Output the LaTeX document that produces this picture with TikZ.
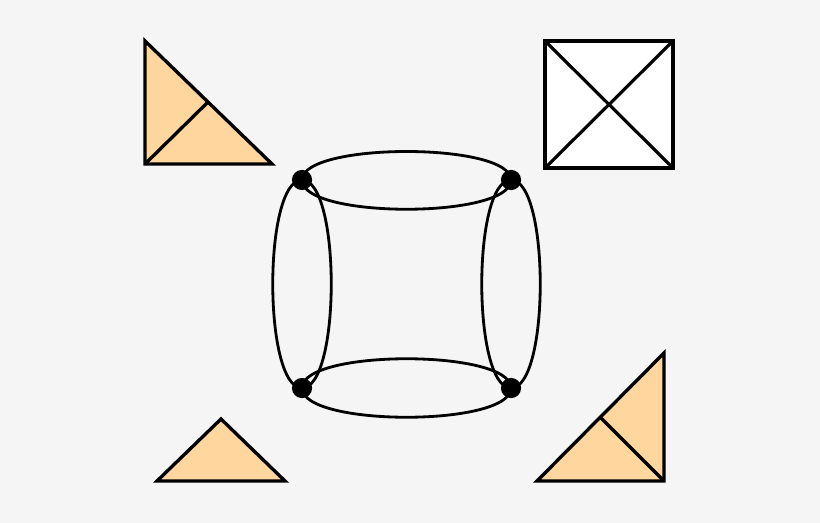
\documentclass[tikz,border=0pt]{standalone}
\usepackage{tikz}
\usetikzlibrary{positioning, calc}
\definecolor{pagegray}{HTML}{F5F5F5}
\definecolor{tanfill}{HTML}{FFD69E}

\begin{document}
\begin{tikzpicture}[
	  x=0.02cm, y=-0.02cm,
	  piece/.style={
	  	draw=black,
	  	fill=tanfill,
	  	line width=1.9pt,
	  	line join=miter
	  },
	  crossbox/.style={
	  	draw=black,
	  	fill=white,
	  	line width=1.8pt
	  },
	  loopline/.style={
	  	draw=black,
	  	line width=1.6pt
	  },
	  vertex/.style={
	  	circle,
	  	fill=black,
	  	inner sep=0pt,
	  	minimum size=11.5pt
	  }]
	% Page
	\fill[pagegray] (0,0) rectangle (820,523);
	\useasboundingbox (0,0) rectangle (820,523);
	% Corner pieces
	\draw[piece] (145,41) -- (145,164) -- (272,164) -- cycle;
	\draw[piece] (208,102) -- (145,164);
	\draw[crossbox] (545,41) rectangle (673,168);
	\draw[crossbox] (545,41) -- (673,168) (673,41) -- (545,168);
	\draw[piece] (221,419) -- (285,481) -- (157,481) -- cycle;
	\draw[piece] (664,353) -- (664,481) -- (537,481) -- cycle;
	\draw[piece] (600,417) -- (664,481);
	% Graph
	\coordinate (tl) at (302,180);
	\coordinate (tr) at (511,180);
	\coordinate (bl) at (302,388);
	\coordinate (br) at (511,388);
	\draw[loopline] (tl) .. controls +(0,-38) and +(0,-38) .. (tr)
		.. controls +(0,39) and +(0,39) .. (tl);
	\draw[loopline] (bl) .. controls +(0,-39) and +(0,-39) .. (br)
		.. controls +(0,39) and +(0,39) .. (bl);
	\draw[loopline] (tl) .. controls +(-39,0) and +(-39,0) .. (bl)
		.. controls +(39,0) and +(39,0) .. (tl);
	\draw[loopline] (tr) .. controls +(-39,0) and +(-39,0) .. (br)
		.. controls +(39,0) and +(39,0) .. (tr);
	\node[vertex] (dtl) at (tl) {};
	\node[vertex] (dtr) at (tr) {};
	\node[vertex] (dbl) at (bl) {};
	\node[vertex] (dbr) at (br) {};
\end{tikzpicture}
\end{document}
